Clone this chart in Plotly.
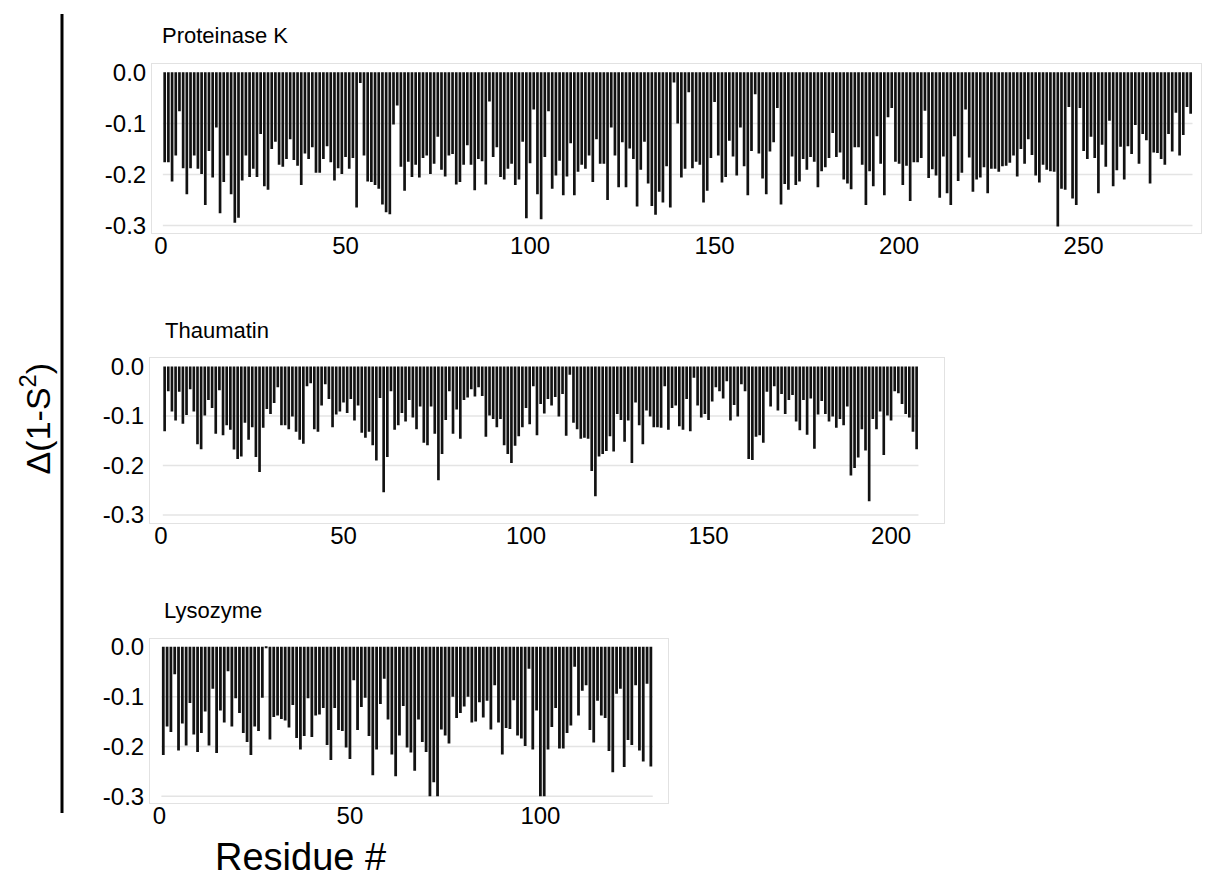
import plotly.graph_objects as go

W, H = 1213, 893

# ---------------- data ----------------
proteinase_k = [
    -0.176, -0.176, -0.214, -0.163, -0.076, -0.188, -0.239, -0.188, -0.163, -0.189,
    -0.199, -0.260, -0.154, -0.206, -0.108, -0.276, -0.215, -0.163, -0.239, -0.295,
    -0.285, -0.212, -0.163, -0.205, -0.189, -0.205, -0.121, -0.223, -0.230, -0.150,
    -0.136, -0.181, -0.185, -0.170, -0.131, -0.172, -0.183, -0.221, -0.159, -0.170,
    -0.147, -0.197, -0.197, -0.170, -0.145, -0.176, -0.212, -0.188, -0.199, -0.166,
    -0.189, -0.168, -0.265, -0.021, -0.163, -0.214, -0.215, -0.221, -0.228, -0.259,
    -0.274, -0.278, -0.102, -0.065, -0.185, -0.232, -0.175, -0.205, -0.181, -0.206,
    -0.168, -0.163, -0.199, -0.179, -0.126, -0.191, -0.204, -0.163, -0.160, -0.220,
    -0.215, -0.181, -0.143, -0.181, -0.231, -0.170, -0.174, -0.220, -0.057, -0.166,
    -0.147, -0.205, -0.210, -0.189, -0.179, -0.221, -0.210, -0.136, -0.286, -0.178,
    -0.073, -0.239, -0.288, -0.166, -0.076, -0.228, -0.202, -0.173, -0.241, -0.204,
    -0.139, -0.241, -0.195, -0.181, -0.189, -0.163, -0.215, -0.131, -0.179, -0.179,
    -0.250, -0.108, -0.163, -0.225, -0.137, -0.225, -0.149, -0.170, -0.263, -0.191,
    -0.136, -0.218, -0.262, -0.279, -0.234, -0.255, -0.184, -0.265, -0.020, -0.100,
    -0.206, -0.189, -0.039, -0.188, -0.175, -0.181, -0.255, -0.232, -0.168, -0.058,
    -0.163, -0.216, -0.205, -0.134, -0.165, -0.202, -0.108, -0.184, -0.241, -0.154,
    -0.043, -0.159, -0.208, -0.239, -0.155, -0.137, -0.070, -0.259, -0.219, -0.230,
    -0.165, -0.221, -0.214, -0.170, -0.191, -0.166, -0.175, -0.225, -0.194, -0.186,
    -0.168, -0.119, -0.166, -0.157, -0.210, -0.218, -0.229, -0.147, -0.147, -0.181,
    -0.260, -0.194, -0.223, -0.125, -0.179, -0.241, -0.088, -0.070, -0.175, -0.179,
    -0.221, -0.183, -0.252, -0.176, -0.176, -0.168, -0.075, -0.207, -0.190, -0.202,
    -0.246, -0.165, -0.237, -0.260, -0.125, -0.213, -0.197, -0.073, -0.167, -0.234,
    -0.210, -0.206, -0.186, -0.237, -0.189, -0.189, -0.195, -0.184, -0.183, -0.177,
    -0.163, -0.204, -0.150, -0.179, -0.131, -0.162, -0.202, -0.216, -0.181, -0.191,
    -0.194, -0.195, -0.302, -0.228, -0.230, -0.068, -0.247, -0.260, -0.070, -0.154,
    -0.170, -0.126, -0.168, -0.237, -0.142, -0.185, -0.095, -0.223, -0.192, -0.146,
    -0.210, -0.145, -0.160, -0.103, -0.179, -0.121, -0.133, -0.218, -0.157, -0.158,
    -0.170, -0.181, -0.121, -0.155, -0.079, -0.163, -0.123, -0.068, -0.081,
]

thaumatin = [
    -0.131, -0.050, -0.091, -0.109, -0.051, -0.116, -0.098, -0.046, -0.091, -0.157,
    -0.167, -0.099, -0.068, -0.084, -0.136, -0.048, -0.139, -0.119, -0.128, -0.168,
    -0.187, -0.182, -0.114, -0.148, -0.123, -0.183, -0.213, -0.124, -0.086, -0.096,
    -0.074, -0.042, -0.119, -0.119, -0.127, -0.101, -0.132, -0.148, -0.156, -0.040,
    -0.034, -0.127, -0.132, -0.079, -0.036, -0.066, -0.123, -0.097, -0.091, -0.073,
    -0.094, -0.066, -0.109, -0.079, -0.134, -0.144, -0.132, -0.159, -0.190, -0.064,
    -0.254, -0.183, -0.050, -0.128, -0.119, -0.094, -0.111, -0.068, -0.103, -0.127,
    -0.081, -0.154, -0.159, -0.081, -0.136, -0.230, -0.177, -0.108, -0.050, -0.136,
    -0.087, -0.146, -0.068, -0.063, -0.046, -0.061, -0.042, -0.060, -0.142, -0.099,
    -0.106, -0.123, -0.106, -0.159, -0.177, -0.195, -0.160, -0.141, -0.123, -0.084,
    -0.117, -0.040, -0.139, -0.076, -0.095, -0.066, -0.079, -0.062, -0.101, -0.056,
    -0.140, -0.017, -0.114, -0.127, -0.146, -0.144, -0.146, -0.211, -0.262, -0.182,
    -0.177, -0.171, -0.141, -0.172, -0.096, -0.108, -0.152, -0.109, -0.195, -0.073,
    -0.119, -0.157, -0.089, -0.101, -0.123, -0.123, -0.124, -0.040, -0.128, -0.084,
    -0.079, -0.121, -0.128, -0.066, -0.131, -0.023, -0.079, -0.103, -0.096, -0.108,
    -0.071, -0.042, -0.050, -0.065, -0.030, -0.109, -0.078, -0.101, -0.036, -0.050,
    -0.187, -0.189, -0.142, -0.139, -0.154, -0.051, -0.081, -0.040, -0.089, -0.056,
    -0.096, -0.068, -0.058, -0.111, -0.129, -0.068, -0.138, -0.065, -0.166, -0.097,
    -0.070, -0.096, -0.111, -0.101, -0.124, -0.106, -0.119, -0.081, -0.220, -0.205,
    -0.184, -0.127, -0.170, -0.272, -0.106, -0.127, -0.091, -0.179, -0.099, -0.109,
    -0.050, -0.054, -0.076, -0.096, -0.103, -0.132, -0.167,
]

lysozyme = [
    -0.217, -0.160, -0.171, -0.055, -0.208, -0.154, -0.198, -0.113, -0.176, -0.211,
    -0.173, -0.130, -0.198, -0.084, -0.213, -0.128, -0.152, -0.049, -0.160, -0.103,
    -0.133, -0.173, -0.191, -0.217, -0.160, -0.169, -0.102, -0.002, -0.186, -0.141,
    -0.138, -0.145, -0.148, -0.162, -0.117, -0.183, -0.206, -0.179, -0.103, -0.181,
    -0.138, -0.136, -0.123, -0.197, -0.227, -0.123, -0.167, -0.169, -0.202, -0.225,
    -0.067, -0.167, -0.121, -0.102, -0.179, -0.258, -0.206, -0.115, -0.064, -0.146,
    -0.216, -0.260, -0.178, -0.119, -0.202, -0.212, -0.249, -0.146, -0.191, -0.211,
    -0.300, -0.272, -0.300, -0.166, -0.178, -0.194, -0.100, -0.143, -0.133, -0.120,
    -0.100, -0.152, -0.150, -0.111, -0.142, -0.108, -0.166, -0.077, -0.152, -0.216,
    -0.163, -0.165, -0.107, -0.178, -0.184, -0.199, -0.044, -0.206, -0.128, -0.300,
    -0.300, -0.206, -0.161, -0.123, -0.204, -0.204, -0.173, -0.158, -0.040, -0.138,
    -0.088, -0.077, -0.167, -0.192, -0.108, -0.138, -0.143, -0.209, -0.252, -0.094,
    -0.084, -0.241, -0.187, -0.197, -0.077, -0.208, -0.230, -0.074, -0.240,
]

panel_titles = ["Proteinase K", "Thaumatin", "Lysozyme"]
y_tick_vals = [0.0, -0.1, -0.2, -0.3]
y_tick_text = ["0.0", "-0.1", "-0.2", "-0.3"]
grid_levels = [-0.1, -0.2, -0.3]
x_ticks_pk = [0, 50, 100, 150, 200, 250]
x_ticks_th = [0, 50, 100, 150, 200]
x_ticks_ly = [0, 50, 100]
y_title = "Δ(1-S<sup>2</sup>)"
x_title = "Residue #"

# ---------------- layout geometry (pixels) ----------------
panels = [
    dict(vals=proteinase_k, ticks=x_ticks_pk, px_x=(152, 1201), px_y=(59, 230),
         xr=(-2.44, 281.8), yr=(-0.3147, 0.016), title_xy=(160, 30)),
    dict(vals=thaumatin, ticks=x_ticks_th, px_x=(150, 944), px_y=(357, 524),
         xr=(-3.01, 214.5), yr=(-0.316, 0.0165), title_xy=(163, 329)),
    dict(vals=lysozyme, ticks=x_ticks_ly, px_x=(150, 668), px_y=(642, 808),
         xr=(-2.49, 133.5), yr=(-0.3138, 0.015), title_xy=(162, 613)),
]

FONT = "Liberation Sans, Arial, sans-serif"
BAR_COLOR = "#121212"
GRID_COLOR = "#e4e4e4"
FRAME_COLOR = "#e2e2e2"
TICK_SIZE = 24

fig = go.Figure()
shapes = []
annotations = []
layout_axes = {}

for i, p in enumerate(panels, start=1):
    n = len(p["vals"])
    residues = list(range(1, n + 1))
    xa = "x" if i == 1 else f"x{i}"
    ya = "y" if i == 1 else f"y{i}"
    fig.add_trace(go.Bar(
        x=residues, y=p["vals"], xaxis=xa, yaxis=ya,
        marker=dict(color=BAR_COLOR, line=dict(width=0)),
        showlegend=False, hoverinfo="x+y",
    ))
    x0, x1 = p["px_x"]
    y0, y1 = p["px_y"]
    xkey = "xaxis" if i == 1 else f"xaxis{i}"
    ykey = "yaxis" if i == 1 else f"yaxis{i}"
    layout_axes[xkey] = dict(
        domain=[x0 / W, x1 / W], range=list(p["xr"]), anchor=ya,
        tickvals=p["ticks"], ticktext=[str(t) for t in p["ticks"]],
        showgrid=False, zeroline=False, ticks="",
        ticklabelstandoff=-9,
        showline=True, mirror=True, linecolor=FRAME_COLOR, linewidth=1,
        tickfont=dict(family=FONT, size=TICK_SIZE, color="#000"),
    )
    layout_axes[ykey] = dict(
        domain=[1 - y1 / H, 1 - y0 / H], range=list(p["yr"]), anchor=xa,
        tickvals=y_tick_vals, ticktext=y_tick_text,
        showgrid=False, zeroline=False, ticks="",
        showline=True, mirror=True, linecolor=FRAME_COLOR, linewidth=1,
        tickfont=dict(family=FONT, size=TICK_SIZE, color="#000"),
    )
    for g in grid_levels:
        shapes.append(dict(type="line", xref=xa, yref=ya, x0=0.5, x1=n + 0.5,
                           y0=g, y1=g, layer="below",
                           line=dict(color=GRID_COLOR, width=1.5)))
    tx, ty = p["title_xy"]
    annotations.append(dict(text=panel_titles[i - 1], xref="paper", yref="paper",
                            x=tx / W, y=1 - ty / H, xanchor="left", yanchor="middle",
                            showarrow=False, font=dict(family=FONT, size=22, color="#000")))

# vertical bar next to the y title
shapes.append(dict(type="line", xref="paper", yref="paper",
                   x0=62 / W, x1=62 / W, y0=1 - 818 / H, y1=1 - 8 / H,
                   line=dict(color="#000", width=3)))

annotations.append(dict(text=y_title, xref="paper", yref="paper",
                        x=35 / W, y=1 - 418 / H, xanchor="center", yanchor="middle",
                        textangle=-90, showarrow=False,
                        font=dict(family=FONT, size=34, color="#000")))
annotations.append(dict(text=x_title, xref="paper", yref="paper",
                        x=300 / W, y=1 - 863 / H, xanchor="center", yanchor="middle",
                        showarrow=False, font=dict(family=FONT, size=38, color="#000")))

fig.update_layout(
    width=W, height=H, margin=dict(l=0, r=0, t=0, b=0),
    paper_bgcolor="white", plot_bgcolor="white",
    bargap=0.27, shapes=shapes, annotations=annotations,
    font=dict(family=FONT, color="#000"),
    **layout_axes,
)

fig.write_html("out.html")
